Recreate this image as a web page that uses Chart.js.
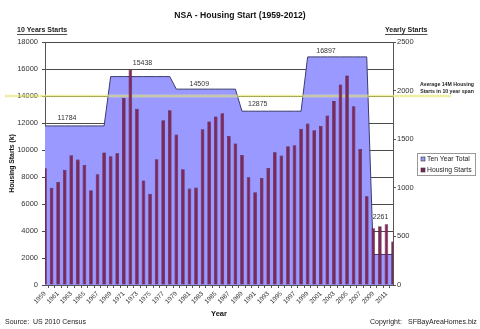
<!DOCTYPE html>
<html>
<head>
<meta charset="utf-8">
<script src="https://cdn.jsdelivr.net/npm/chart.js@4.4.1/dist/chart.umd.min.js"></script>
<style>
  html, body { margin: 0; padding: 0; background: #fff; }
  #chart { display: block; }
</style>
</head>
<body>
<canvas id="chart" width="480" height="329"></canvas>
<script>
// Data
const years = [
  '1959','1960','1961','1962','1963','1964','1965','1966','1967','1968',
  '1969','1970','1971','1972','1973','1974','1975','1976','1977','1978',
  '1979','1980','1981','1982','1983','1984','1985','1986','1987','1988',
  '1989','1990','1991','1992','1993','1994','1995','1996','1997','1998',
  '1999','2000','2001','2002','2003','2004','2005','2006','2007','2008',
  '2009','2010','2011','2012'
];

// yearly starts (k), right axis
const housingStarts = [
  1200, 1000, 1060, 1185, 1335, 1290, 1235, 975, 1140, 1364,
  1325, 1355, 1926, 2215, 1813, 1075, 940, 1294, 1696, 1799,
  1548, 1191, 992, 1002, 1603, 1682, 1734, 1767, 1534, 1456,
  1338, 1108, 954, 1101, 1204, 1365, 1332, 1428, 1438, 1607,
  1661, 1593, 1637, 1743, 1892, 2063, 2156, 1840, 1400, 912,
  584, 605, 624, 448
];

// ten year totals (k), left axis
const tenYearTotal = [
  11784, 11784, 11784, 11784, 11784, 11784, 11784, 11784, 11784, 11784,
  15438, 15438, 15438, 15438, 15438, 15438, 15438, 15438, 15438, 15438,
  14509, 14509, 14509, 14509, 14509, 14509, 14509, 14509, 14509, 14509,
  12875, 12875, 12875, 12875, 12875, 12875, 12875, 12875, 12875, 12875,
  16897, 16897, 16897, 16897, 16897, 16897, 16897, 16897, 16897, 16897,
  2261, 2261, 2261, 2261
];

const decadeTotals = [11784, 15438, 14509, 12875, 16897, 2261];
const averageLine = 14000;

const FONT = '"Liberation Sans", Arial, sans-serif';

// where the decade total labels sit (category index, pixels above the value)
const labelAt = [3.35, 14.85, 23.5, 32.4, 42.8, 51.1];
const labelLift = [8, 14, 5, 7, 6, 37];

function drawText(ctx, str, x, y, font, align, color) {
  ctx.font = font;
  ctx.textAlign = align || 'left';
  ctx.textBaseline = 'middle';
  ctx.fillStyle = color || '#222';
  ctx.fillText(str, x, y);
}

function underline(ctx, str, x, y, font) {
  ctx.font = font;
  const w = ctx.measureText(str).width;
  ctx.strokeStyle = '#222';
  ctx.lineWidth = 0.8;
  ctx.beginPath();
  ctx.moveTo(x, y + 4.5);
  ctx.lineTo(x + w, y + 4.5);
  ctx.stroke();
}

const extras = {
  id: 'extras',
  afterDatasetDraw(chart, args) {
    // yellow average line sits over the area but under the bars
    if (args.index !== 0) return;
    const ctx = chart.ctx;
    const y = chart.scales.y.getPixelForValue(averageLine);
    ctx.save();
    ctx.strokeStyle = 'rgba(240, 240, 150, 0.45)';
    ctx.lineWidth = 3;
    ctx.beginPath();
    ctx.moveTo(5, y);
    ctx.lineTo(451, y);
    ctx.stroke();
    ctx.strokeStyle = '#d6d64a';
    ctx.lineWidth = 1;
    ctx.setLineDash([1.5, 1]);
    ctx.beginPath();
    ctx.moveTo(5, y);
    ctx.lineTo(451, y);
    ctx.stroke();
    ctx.restore();
  },
  afterDraw(chart) {
    const ctx = chart.ctx;
    const xs = chart.scales.x;
    const ys = chart.scales.y;
    const area = chart.chartArea;
    ctx.save();

    drawText(ctx, 'NSA - Housing Start (1959-2012)', 240, 16, 'bold 8.6px ' + FONT, 'center', '#111');

    drawText(ctx, '10 Years Starts', 17, 30, 'bold 7px ' + FONT, 'left', '#222');
    underline(ctx, '10 Years Starts', 17, 30, 'bold 7px ' + FONT);
    drawText(ctx, 'Yearly Starts', 385, 30, 'bold 7px ' + FONT, 'left', '#222');
    underline(ctx, 'Yearly Starts', 385, 30, 'bold 7px ' + FONT);

    // left axis title
    ctx.save();
    ctx.translate(12, (area.top + area.bottom) / 2);
    ctx.rotate(-Math.PI / 2);
    drawText(ctx, 'Housing Starts (k)', 0, 0, 'bold 6.8px ' + FONT, 'center', '#111');
    ctx.restore();

    drawText(ctx, 'Year', (area.left + area.right) / 2, 314, 'bold 7.5px ' + FONT, 'center', '#111');

    // decade totals
    decadeTotals.forEach((v, i) => {
      const x = xs.getPixelForValue(labelAt[i]);
      const y = ys.getPixelForValue(v) - labelLift[i];
      drawText(ctx, String(v), x, y, '7px ' + FONT, 'center', '#333');
    });

    // average note
    drawText(ctx, 'Average 14M Housing', 447, 85, 'bold 5.2px ' + FONT, 'center', '#222');
    drawText(ctx, 'Starts in 10 year span', 447, 92, 'bold 5.2px ' + FONT, 'center', '#222');

    // legend
    ctx.strokeStyle = '#999';
    ctx.lineWidth = 1;
    ctx.strokeRect(417.5, 153.5, 58, 22);
    chart.data.datasets.forEach((ds, i) => {
      const ly = 159 + i * 11;
      ctx.fillStyle = ds.backgroundColor;
      ctx.fillRect(421, ly - 2, 4, 4);
      ctx.strokeStyle = '#333';
      ctx.lineWidth = 0.6;
      ctx.strokeRect(421, ly - 2, 4, 4);
      drawText(ctx, ds.label, 427, ly, '6.8px ' + FONT, 'left', '#222');
    });

    // footer
    drawText(ctx, 'Source:', 5, 322, '7px ' + FONT, 'left', '#222');
    drawText(ctx, 'US 2010 Census', 33, 322, '7px ' + FONT, 'left', '#222');
    drawText(ctx, 'Copyright:', 370, 322, '7px ' + FONT, 'left', '#222');
    drawText(ctx, 'SFBayAreaHomes.biz', 408, 322, '7px ' + FONT, 'left', '#222');

    ctx.restore();
  }
};

const ctx = document.getElementById('chart').getContext('2d');
new Chart(ctx, {
  data: {
    labels: years,
    datasets: [
      {
        type: 'line',
        label: 'Ten Year Total',
        data: tenYearTotal,
        yAxisID: 'y',
        backgroundColor: '#9999ff',
        borderColor: '#3c3c6e',
        borderWidth: 1,
        fill: 'origin',
        tension: 0,
        pointRadius: 0,
        order: 2
      },
      {
        type: 'bar',
        label: 'Housing Starts',
        data: housingStarts,
        yAxisID: 'y2',
        backgroundColor: '#7e2858',
        borderColor: '#4e1636',
        borderWidth: 0.6,
        barPercentage: 0.55,
        categoryPercentage: 1,
        order: 1
      }
    ]
  },
  options: {
    responsive: false,
    animation: false,
    layout: { padding: { top: 42, left: 0, right: 0, bottom: 0 } },
    plugins: {
      legend: { display: false },
      tooltip: { enabled: false },
      title: { display: false }
    },
    scales: {
      x: {
        type: 'category',
        offset: false,
        grid: { display: true, drawOnChartArea: false, tickLength: 3, color: '#555' },
        border: { color: '#555' },
        ticks: {
          autoSkip: false,
          maxRotation: 45,
          minRotation: 45,
          padding: 2,
          color: '#333',
          font: { family: FONT, size: 6.4 },
          callback: function (value, index) {
            return index % 2 === 0 ? this.getLabelForValue(value) : '';
          }
        },
        afterFit: s => { s.height = 44; }
      },
      y: {
        position: 'left',
        min: 0,
        max: 18000,
        grid: { color: '#4a4a4a', tickLength: 3 },
        border: { color: '#555' },
        ticks: {
          stepSize: 2000, padding: 4, color: '#333',
          font: { family: FONT, size: 7.5 },
          callback: v => String(v)
        },
        afterFit: s => { s.width = 45; }
      },
      y2: {
        position: 'right',
        min: 0,
        max: 2500,
        grid: { drawOnChartArea: false, tickLength: 3, color: '#555' },
        border: { color: '#555' },
        ticks: {
          stepSize: 500, padding: 1, color: '#333',
          font: { family: FONT, size: 7.5 },
          callback: v => String(v)
        },
        afterFit: s => { s.width = 87; }
      }
    }
  },
  plugins: [extras]
});
</script>
</body>
</html>
